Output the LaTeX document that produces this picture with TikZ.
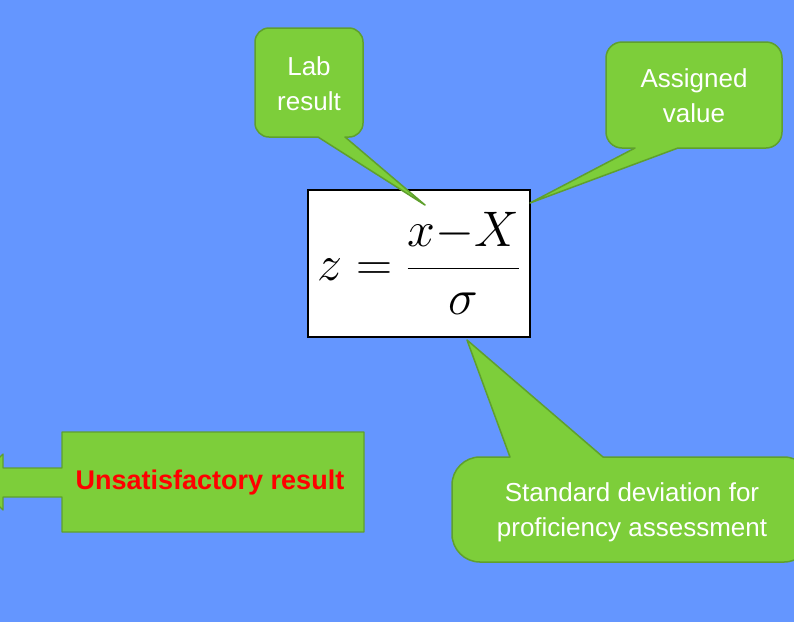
\RequirePackage{fix-cm}
\documentclass[tikz,border=0pt]{standalone}
\usepackage{fontspec}
\setmainfont{Liberation Sans}
\definecolor{bgblue}{RGB}{100,150,255}
\definecolor{bubblegreen}{RGB}{125,206,58}
\definecolor{bubbleedge}{RGB}{95,160,45}
\begin{document}
\begin{tikzpicture}[
    x=1pt, y=-1pt,
    bubble/.style={fill=bubblegreen, draw=bubbleedge, line width=1.5pt, line join=round},
    bubbletext/.style={text=white, font=\fontsize{26}{35}\selectfont, align=center}
]
  % Background
  \fill[bgblue] (0,0) rectangle (794,622);
  \useasboundingbox (0,0) rectangle (794,622);
  \clip (0,0) rectangle (794,622);

  % Formula box
  \node[draw=black, fill=white, line width=1.3pt, minimum width=222pt, minimum height=147pt, inner sep=0pt]
    (formula) at (419,263.5) {\fontsize{50}{60}\selectfont $\displaystyle z=\frac{x\mkern-4mu-\mkern-4mu X}{\sigma}$};

  % Callout tips
  \coordinate (labtip) at (425,205);
  \coordinate (asgtip) at (530,203);
  \coordinate (sdtip) at (467,340);

  % Lab result callout
  \draw[bubble] [rounded corners=14pt] (255,80) -- (255,28) -- (363,28) -- (363,137)
    [sharp corners] -- (345,137) -- (labtip) -- (318,137) [rounded corners=14pt] -- (255,137) -- cycle;
  \node[bubbletext] (lab) at (309,84) {Lab\\result};

  % Assigned value callout
  \draw[bubble] [rounded corners=16pt] (606,95) -- (606,42) -- (782,42) -- (782,148)
    [sharp corners] -- (678,148) -- (asgtip) -- (635,148) [rounded corners=16pt] -- (606,148) -- cycle;
  \node[bubbletext] (assigned) at (694,96) {Assigned\\value};

  % Standard deviation callout
  \draw[bubble] [rounded corners=28pt] (452,510) -- (452,457)
    [sharp corners] -- (510,457) -- (sdtip) -- (603,457) [rounded corners=28pt] -- (812,457) -- (812,562) -- (452,562) -- cycle;
  \node[bubbletext] (stddev) at (632,512) {Standard deviation for\\proficiency assessment};

  % Unsatisfactory result box with left tab
  \draw[bubble, line width=1.2pt] (62,432) -- (364,432) -- (364,532) -- (62,532) -- (62,497) -- (3,497) -- (3,510)
    -- (-25,482) -- (3,454) -- (3,468) -- (62,468) -- cycle;
  \node[text=red, font=\fontsize{27}{30}\selectfont\bfseries] (unsat) at (210,483) {Unsatisfactory result};

\end{tikzpicture}
\end{document}
